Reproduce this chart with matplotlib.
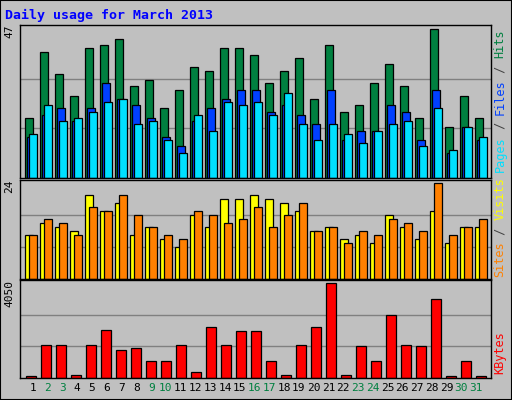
import numpy as np
import matplotlib
matplotlib.use("Agg")
import matplotlib.pyplot as plt

days = list(range(1, 32))
weekends = [2, 3, 9, 10, 16, 17, 23, 24, 30, 31]
hits = [19, 40, 33, 26, 41, 42, 44, 29, 31, 22, 28, 35, 34, 41, 41, 39,
        30, 34, 38, 25, 42, 21, 23, 30, 36, 29, 19, 47, 16, 26, 19]
files = [13, 20, 22, 18, 22, 30, 25, 23, 19, 13, 10, 18, 22, 25, 28, 28,
         21, 23, 20, 17, 28, 12, 15, 15, 23, 21, 12, 28, 8, 16, 12]
pages = [14, 23, 18, 19, 21, 24, 25, 17, 18, 12, 8, 20, 15, 24, 23, 24,
         20, 27, 17, 12, 17, 14, 11, 15, 17, 18, 10, 22, 9, 16, 13]
visits = [11, 14, 13, 12, 21, 17, 19, 11, 13, 10, 8, 16, 13, 20, 20, 21,
          20, 19, 17, 12, 13, 10, 11, 9, 16, 13, 10, 17, 9, 13, 13]
sites = [11, 15, 14, 11, 18, 17, 21, 16, 13, 11, 10, 17, 16, 14, 15, 18,
         13, 16, 19, 12, 13, 9, 12, 11, 15, 14, 12, 24, 11, 13, 15]
kbytes = [70, 1399, 1399, 118, 1399, 2062, 1178, 1267, 736, 736, 1399, 250,
          2150, 1399, 2018, 2018, 736, 118, 1399, 2150, 4050, 118, 1355, 736,
          2680, 1399, 1355, 3343, 70, 736, 70]

BG = "#C0C0C0"
W, H = 512, 400
fig = plt.figure(figsize=(5.12, 4.0), dpi=100, facecolor=BG)

def px_axes(x0, y0, x1, y1):
    # pixel box measured from top-left of image
    return fig.add_axes([x0 / W, 1 - y1 / H, (x1 - x0) / W, (y1 - y0) / H])

x = np.arange(31)

def setup(ax, ymax, label):
    ax.set_facecolor(BG)
    ax.set_xlim(0, 31.4)
    ax.set_ylim(0, ymax * 1.03)
    for g in (ymax / 3, ymax * 2 / 3):
        ax.axhline(g, color="#808080", lw=1, zorder=0)
    ax.set_xticks([])
    ax.set_yticks([])
    for s in ax.spines.values():
        s.set_color("black")
        s.set_linewidth(1)
    ax.text(-0.012, 1.0, label, transform=ax.transAxes, rotation=90,
            ha="right", va="top", fontsize=8, family="DejaVu Sans Mono")

ek = dict(edgecolor="black", linewidth=0.9, align="edge")

ax1 = px_axes(20, 25, 491, 178)
setup(ax1, 47, "47")
ax1.bar(x + 0.35, hits, 0.49, color="#008040", **ek)
ax1.bar(x + 0.49, files, 0.49, color="#0040FF", **ek)
ax1.bar(x + 0.62, pages, 0.49, color="#00E0FF", **ek)

ax2 = px_axes(20, 180, 491, 279)
setup(ax2, 24, "24")
ax2.bar(x + 0.35, visits, 0.49, color="#FFFF00", **ek)
ax2.bar(x + 0.62, sites, 0.49, color="#FF8000", **ek)

ax3 = px_axes(20, 280, 491, 378)
setup(ax3, 4050, "4050")
ax3.bar(x + 0.4, kbytes, 0.69, color="#FF0000", **ek)

# day labels
for d in days:
    xp = 33 + 14.77 * (d - 1)
    fig.text(xp / W, 1 - 388 / H, str(d), ha="center", va="center",
             fontsize=8, family="DejaVu Sans Mono",
             color="#008040" if d in weekends else "black")

# right side labels, stacked bottom to top
def side_label(parts, xpx, ybottom):
    step = 7.1
    y = ybottom
    for txt, col in parts:
        fig.text(xpx / W, 1 - y / H, txt, rotation=90, ha="center", va="bottom",
                 fontsize=8.6, family="DejaVu Sans Mono", color=col)
        y -= step * len(txt)

side_label([("Pages", "#00E0FF"), (" / ", "#404040"), ("Files", "#0040FF"),
            (" / ", "#404040"), ("Hits", "#008040")], 500, 172)
side_label([("Sites", "#FF8000"), (" / ", "#404040"), ("Visits", "#FFFF00")], 500, 277)
side_label([("KBytes", "#FF0000")], 500, 374)

fig.text(5 / W, 1 - 15 / H, "Daily usage for March 2013", ha="left", va="center",
         fontsize=9.5, fontweight="bold", family="DejaVu Sans Mono", color="#0000FF")

# frame around the image
frame = fig.add_axes([0, 0, 1, 1], facecolor="none")
frame.set_xticks([]); frame.set_yticks([])
for s in frame.spines.values():
    s.set_color("black")
    s.set_linewidth(1.5)

fig.savefig("out.png", dpi=100, facecolor=BG)
